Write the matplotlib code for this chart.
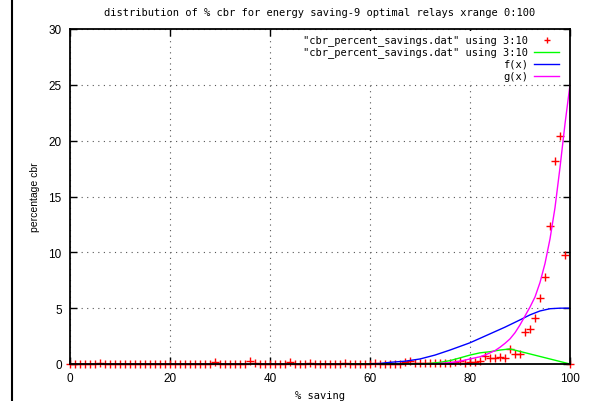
import numpy as np
import matplotlib
matplotlib.use('Agg')
import matplotlib.pyplot as plt
from matplotlib.lines import Line2D

# data points "cbr_percent_savings.dat" using 3:10
pts_x = list(range(0, 101))
pts_y = [0.0] * 101
for k, v in {6: 0.05, 29: 0.15, 36: 0.3, 37: 0.12, 44: 0.2, 48: 0.1, 55: 0.1,
             61: 0.1, 67: 0.15, 68: 0.25, 69: 0.05, 70: 0.1, 71: 0.05, 72: 0.05,
             73: 0.05, 74: 0.1, 75: 0.1, 76: 0.05, 77: 0.15, 78: 0.3, 79: 0.1,
             80: 0.2, 81: 0.2, 82: 0.25, 83: 0.7, 84: 0.5, 85: 0.5, 86: 0.65,
             87: 0.55, 88: 1.35, 89: 0.9, 90: 0.9, 91: 2.9, 92: 3.1, 93: 4.1,
             94: 5.9, 95: 7.8, 96: 12.4, 97: 18.2, 98: 20.4, 99: 9.8}.items():
    pts_y[k] = v

# same file drawn with lines
line_x = [56, 70, 72, 74, 76, 78, 80, 82, 84, 86, 88, 100]
line_y = [0.0, 0.0, 0.05, 0.15, 0.3, 0.55, 0.8, 1.0, 1.1, 1.25, 1.35, 0.0]

# f(x)
f_x = [60, 62, 64, 67, 70, 73, 76, 80, 84, 87, 90, 92, 94, 96, 98, 100]
f_y = [0.0, 0.05, 0.15, 0.25, 0.45, 0.8, 1.25, 1.9, 2.7, 3.3, 3.95, 4.4, 4.75, 4.95, 5.0, 5.0]

# g(x)
g_x = list(range(72, 101))
g_y = [0.0, 0.02, 0.05, 0.08, 0.12, 0.18, 0.25, 0.35, 0.45, 0.55, 0.65, 0.8, 1.0,
       1.2, 1.5, 1.85, 2.25, 2.8, 3.5, 4.3, 5.1, 6.0, 7.3, 9.0, 11.2, 14.0, 17.6,
       21.5, 25.0]

labels = ['"cbr_percent_savings.dat" using 3:10',
          '"cbr_percent_savings.dat" using 3:10',
          'f(x)', 'g(x)']

mono = 'DejaVu Sans Mono'
sans = 'Liberation Sans'

fig = plt.figure(figsize=(5.91, 4.02), dpi=100)
ax = fig.add_axes([70 / 591, 37 / 402, 500 / 591, 335 / 402])

ax.plot(pts_x, pts_y, '+', color='#ff0000', ms=6, mew=1, clip_on=False, zorder=3)
ax.plot(line_x, line_y, color='#00ff00', lw=1, zorder=3)
ax.plot(f_x, f_y, color='#0000ff', lw=1, zorder=3)
ax.plot(g_x, g_y, color='#ff00ff', lw=1, zorder=3)

ax.set_xlim(0, 100)
ax.set_ylim(0, 30)
ax.set_xticks(range(0, 101, 20))
ax.set_yticks(range(0, 31, 5))
ax.tick_params(direction='in', length=5, width=1, top=True, right=True,
               labelsize=8.5, pad=6)
for t in ax.get_xticklabels() + ax.get_yticklabels():
    t.set_family(sans)
ax.grid(True, linestyle=(0, (1, 4)), color='#555555', lw=0.8)
for s in ax.spines.values():
    s.set_linewidth(1.3)
    s.set_zorder(4)

ax.set_title('distribution of % cbr for energy saving-9 optimal relays xrange 0:100',
             fontsize=7.5, family=mono, pad=10)
ax.set_xlabel('% saving', fontsize=7.5, family=mono, labelpad=4)
ax.set_ylabel('percentage cbr', fontsize=7.5, family=sans, labelpad=6)

# key in top right corner, text right aligned, samples after it
ax.add_patch(plt.Rectangle((0.56, 0.845), 0.435, 0.15, transform=ax.transAxes,
                           facecolor='white', edgecolor='none', zorder=2))
styles = [dict(marker='+', color='#ff0000', ls='none', ms=5, mew=1),
          dict(color='#00ff00', lw=1), dict(color='#0000ff', lw=1),
          dict(color='#ff00ff', lw=1)]
for i, (lab, st) in enumerate(zip(labels, styles)):
    yy = 0.968 - i * 0.036
    ax.text(0.916, yy, lab, transform=ax.transAxes, ha='right', va='center',
            fontsize=7.5, family=mono, zorder=5)
    if st.get('marker'):
        ax.plot([0.953], [yy], transform=ax.transAxes, clip_on=False, zorder=5, **st)
    else:
        ax.plot([0.928, 0.978], [yy, yy], transform=ax.transAxes, clip_on=False,
                zorder=5, **st)

fig.add_artist(Line2D([12 / 591, 12 / 591], [0, 1], color='black', lw=1.5))

fig.savefig('out.png', dpi=100)
